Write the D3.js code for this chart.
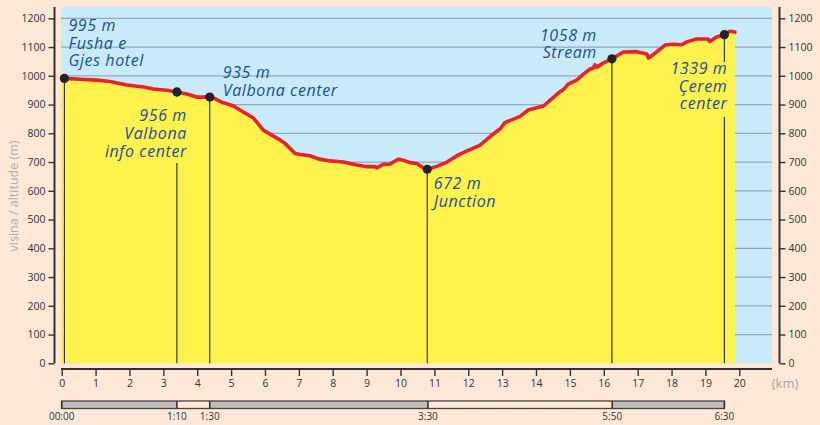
<!DOCTYPE html>
<html><head><meta charset="utf-8">
<script src="https://cdn.jsdelivr.net/npm/d3@7"></script>
<style>
html,body{margin:0;padding:0;background:#fde8d8;}
svg{display:block;}
</style></head>
<body>
<svg id="c" width="820" height="425"></svg>
<script>
// ---- data ----
const profileKm = [0,0.08,0.54,1.03,1.43,1.92,2.41,2.70,3.10,3.39,3.69,3.98,4.28,4.47,4.77,5.06,5.26,5.66,5.95,6.44,6.59,6.89,7.04,7.33,7.57,7.92,8.31,8.71,9.00,9.25,9.30,9.49,9.69,9.94,10.08,10.28,10.48,10.67,10.79,11.07,11.36,11.71,11.95,12.35,12.69,12.94,13.08,13.53,13.77,14.02,14.22,14.46,14.71,14.81,14.95,15.20,15.40,15.59,15.69,15.74,15.79,15.98,16.24,16.48,16.58,16.97,17.27,17.32,17.56,17.81,18.05,18.30,18.45,18.74,19.08,19.13,19.33,19.56,19.72,19.87];
const profileAlt = [995,991,988,985,980,968,961,954,950,944,937,926,926,923,906,896,881,853,811,777,765,730,726,722,711,704,700,690,684,684,680,692,693,710,706,698,695,680,675,685,699,725,738,759,793,815,837,859,881,889,895,920,945,952,971,985,1006,1023,1027,1038,1030,1044,1059,1076,1083,1084,1076,1062,1083,1107,1110,1108,1118,1128,1128,1119,1135,1143,1155,1152];

const waypointKm  = [0.08, 3.40, 4.37, 10.79, 16.24, 19.56];
const waypointAlt = [991, 944, 926, 675, 1059, 1143];
const waypointLabels = [
  ["995 m","Fusha e","Gjes hotel"],
  ["956 m","Valbona","info center"],
  ["935 m","Valbona center"],
  ["672 m","Junction"],
  ["1058 m","Stream"],
  ["1339 m","Çerem","center"]
];

const kmTicks = [0,1,2,3,4,5,6,7,8,9,10,11,12,13,14,15,16,17,18,19,20];
const altTicks = [0,100,200,300,400,500,600,700,800,900,1000,1100,1200];
const timeKm = [0, 3.40, 4.37, 10.81, 16.25, 19.56];
const timeLabels = ["00:00","1:10","1:30","3:30","5:50","6:30"];
const timeShaded = [true,false,true,false,true];

// ---- layout ----
const svg = d3.select("#c");
const x = d3.scaleLinear().domain([0,20]).range([61.7,739.3]);
const y = d3.scaleLinear().domain([0,1200]).range([363.3,18.3]);
const plotL = 61, plotR = 772, plotT = 7, plotB = y(0);
const tickFont = "'Open Sans', 'Noto Sans', sans-serif";
const labelFont = "'Open Sans', Lato, sans-serif";
const blue = "#1b4f9b";

// label layout: dx relative to dot, anchor, baselines
const labelLayout = [
  {dx:4, anchor:"start", ys:[31,48.5,66]},
  {dx:10, anchor:"end", ys:[121,139.3,157.3]},
  {dx:13, anchor:"start", ys:[78.3,96]},
  {dx:6.5, anchor:"start", ys:[189,206.5]},
  {dx:-15, anchor:"end", ys:[40.7,58.3]},
  {dx:3, anchor:"end", ys:[74,91.7,109.3]}
];
// gaps in vertical lines (to leave room for labels)
const lineGaps = [null,[97,163],null,null,null,[62,117]];

// sky
svg.append("rect").attr("x",plotL).attr("y",plotT).attr("width",plotR-plotL).attr("height",plotB-plotT).attr("fill","#c9eaf9");

// grid
svg.append("g").selectAll("line").data(altTicks.filter(d=>d>0)).join("line")
  .attr("x1",plotL).attr("x2",plotR).attr("y1",d=>y(d)).attr("y2",d=>y(d))
  .attr("stroke","#8fabbd").attr("stroke-width",1.2);

const pts = profileKm.map((k,i)=>[k,profileAlt[i]]);
// area
svg.append("path").datum(pts)
  .attr("d", d3.area().x(d=>x(d[0])).y0(y(0)).y1(d=>y(d[1])))
  .attr("fill","#fff24d");

// waypoint vertical lines
waypointKm.forEach((k,i)=>{
  const xx = x(k), y0 = y(waypointAlt[i]), g = lineGaps[i];
  const segs = g ? [[y0,g[0]],[g[1],plotB]] : [[y0,plotB]];
  segs.forEach(s=>{
    svg.append("line").attr("x1",xx).attr("x2",xx).attr("y1",s[0]).attr("y2",s[1])
      .attr("stroke","#2a2a2a").attr("stroke-width",1.1);
  });
});

// profile line
svg.append("path").datum(pts)
  .attr("d", d3.line().x(d=>x(d[0])).y(d=>y(d[1])))
  .attr("fill","none").attr("stroke","#e8212b").attr("stroke-width",3.6)
  .attr("stroke-linejoin","round").attr("stroke-linecap","round");

// dots
svg.append("g").selectAll("circle").data(waypointKm).join("circle")
  .attr("cx",d=>x(d)).attr("cy",(d,i)=>y(waypointAlt[i])).attr("r",4.6).attr("fill","#222");

// labels (one text per line)
waypointLabels.forEach((lines,i)=>{
  const L = labelLayout[i];
  lines.forEach((s,j)=>{
    svg.append("text").attr("font-family",labelFont).attr("font-style","italic")
      .attr("font-size",16).attr("letter-spacing",0.6).attr("fill",blue).attr("text-anchor",L.anchor)
      .attr("x",x(waypointKm[i])+L.dx).attr("y",L.ys[j]).text(s);
  });
});

// left axis
const axColor = "#3a2f2f";
const lAx = svg.append("g").attr("transform","translate(54.5,0)")
  .call(d3.axisLeft(y).tickValues(altTicks).tickSize(6).tickPadding(3).tickFormat(d3.format("d")));
lAx.select(".domain").attr("d",`M0,${plotT}V${plotB}`).attr("stroke",axColor).attr("stroke-width",2);
lAx.selectAll(".tick line").attr("stroke",axColor).attr("stroke-width",1.4);
lAx.selectAll("text").attr("font-family",tickFont).attr("font-size",10.5).attr("fill","#333");

// right axis
const rAx = svg.append("g").attr("transform","translate(779.5,0)")
  .call(d3.axisRight(y).tickValues(altTicks).tickSize(6).tickPadding(3).tickFormat(d3.format("d")));
rAx.select(".domain").attr("d",`M0,${plotT}V${plotB}`).attr("stroke",axColor).attr("stroke-width",2);
rAx.selectAll(".tick line").attr("stroke",axColor).attr("stroke-width",1.4);
rAx.selectAll("text").attr("font-family",tickFont).attr("font-size",10.5).attr("fill","#333");

// bottom axis
const bAx = svg.append("g").attr("transform","translate(0,369)")
  .call(d3.axisBottom(x).tickValues(kmTicks).tickSize(7).tickPadding(4).tickFormat(d3.format("d")));
bAx.select(".domain").attr("d",`M${plotL},0H${plotR}`).attr("stroke",axColor).attr("stroke-width",2);
bAx.selectAll(".tick line").attr("stroke",axColor).attr("stroke-width",1.4);
bAx.selectAll("text").attr("font-family",tickFont).attr("font-size",10.5).attr("fill","#333");

svg.append("text").attr("x",785).attr("y",388).attr("text-anchor","middle")
  .attr("font-family",tickFont).attr("font-size",13).attr("fill","#a3a3a3").text("(km)");

// y axis title
svg.append("text").attr("transform","translate(18,196) rotate(-90)").attr("text-anchor","middle")
  .attr("font-family",tickFont).attr("font-size",12.5).attr("fill","#a7b0b8").text("visina / altitude (m)");

// time bar
const tb = svg.append("g");
const barT = 401, barH = 7.5;
for (let i=0;i<timeKm.length-1;i++){
  tb.append("rect").attr("x",x(timeKm[i])).attr("y",barT).attr("width",x(timeKm[i+1])-x(timeKm[i])).attr("height",barH)
    .attr("fill", timeShaded[i] ? "#bdbdbd" : "#fde8d8");
}
tb.append("rect").attr("x",x(timeKm[0])).attr("y",barT).attr("width",x(timeKm[timeKm.length-1])-x(timeKm[0])).attr("height",barH)
  .attr("fill","none").attr("stroke","#4a4040").attr("stroke-width",1.3);
tb.selectAll("line").data(timeKm).join("line")
  .attr("x1",d=>x(d)).attr("x2",d=>x(d)).attr("y1",barT).attr("y2",barT+barH)
  .attr("stroke","#3a3030").attr("stroke-width",1.6);
tb.selectAll("text").data(timeLabels).join("text")
  .attr("x",(d,i)=>x(timeKm[i])).attr("y",419.5).attr("text-anchor","middle")
  .attr("font-family",tickFont).attr("font-size",10).attr("fill","#333").text(d=>d);
</script>
</body></html>
